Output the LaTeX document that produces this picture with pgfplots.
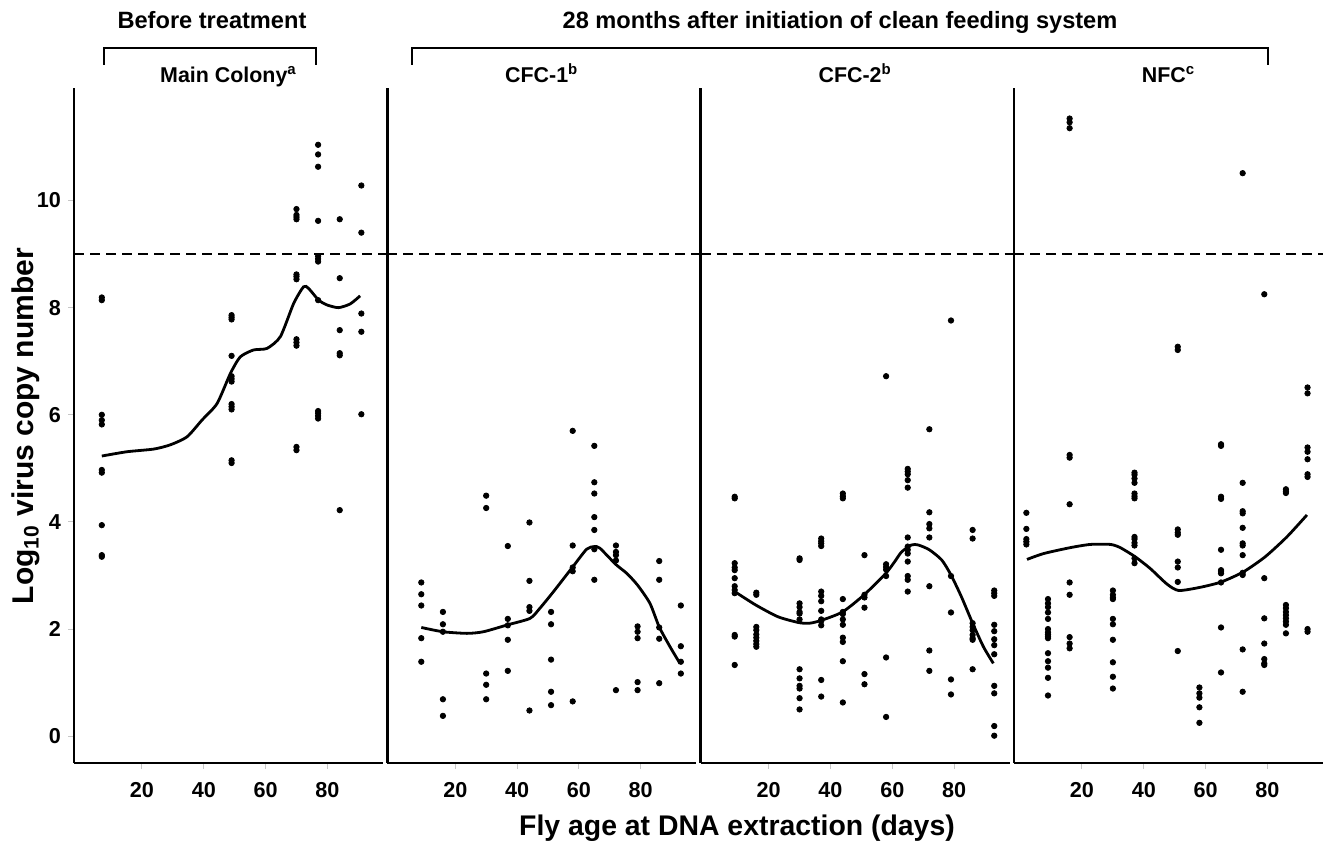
\documentclass[border=0pt]{standalone}
\usepackage{fontspec}
\setmainfont{Liberation Sans}
\usepackage{pgfplots}
\pgfplotsset{compat=1.18}
\tikzset{thr/.style={black, line width=1pt, dash pattern=on 5pt off 3pt}}
\pgfplotsset{
  panel/.style={
    scale only axis, width=154.5pt, height=337.5pt,
    xmin=-2, xmax=98, ymin=-0.5, ymax=12.1,
    axis x line*=bottom, axis y line*=left,
    axis line style={line width=1.4pt, black},
    xtick={20,40,60,80}, ytick=\empty,
    tick align=outside, major tick length=3pt,
    tick style={gray!45, line width=0.5pt},
    /pgf/number format/assume math mode=true,
    xticklabel style={font=\bfseries\fontsize{10.8}{12}\selectfont, yshift=-3pt},
    yticklabel style={font=\bfseries\fontsize{10.8}{12}\selectfont},
    title style={at={(rel axis cs:0.5,1)}, anchor=base, yshift=-3pt,
      font=\bfseries\fontsize{10.7}{12}\selectfont},
    clip=false,
    anchor=south west,
  },
  dots/.style={only marks, mark=*, mark size=1.35pt, black},
  curve/.style={smooth, tension=0.4, line width=1.4pt, black, no markers},
}
\begin{document}
\begin{tikzpicture}
\path[use as bounding box] (0,0) rectangle (661.5pt,-422.5pt);

% ---------- Main Colony ----------
\begin{axis}[panel, at={(37pt,-381.5pt)},
  ytick={0,2,4,6,8,10},
  title={Main Colony\textsuperscript{a}},
  ylabel={Log\textsubscript{10} virus copy number},
  ylabel style={at={(rel axis cs:-0.155,0.499)}, anchor=center, rotate=0,
    font=\bfseries\fontsize{15}{17}\selectfont}]
\draw[thr] (axis cs:-2,9) -- (axis cs:100,9);
\addplot[dots] coordinates {
(7,8.19) (7,8.14) (7,6.00) (7,5.90) (7,5.82) (7,4.97) (7,4.92) (7,3.94) (7,3.38) (7,3.35)
(49,7.86) (49,7.82) (49,7.78) (49,7.10) (49,6.72) (49,6.67) (49,6.62) (49,6.20) (49,6.15) (49,6.10) (49,5.15) (49,5.10)
(70,9.84) (70,9.73) (70,9.69) (70,9.65) (70,8.62) (70,8.58) (70,8.53) (70,7.41) (70,7.35) (70,7.29) (70,5.40) (70,5.34)
(77,11.04) (77,10.86) (77,10.63) (77,9.62) (77,8.96) (77,8.91) (77,8.86) (77,8.14) (77,6.07) (77,6.03) (77,5.98) (77,5.93)
(84,9.65) (84,8.55) (84,7.58) (84,7.15) (84,7.11) (84,4.22)
(91,10.28) (91,9.40) (91,7.89) (91,7.55) (91,6.01)
};
\addplot[curve] coordinates {
(7,5.23) (15.1,5.31) (23.8,5.36) (29.2,5.44) (34.6,5.59) (39.4,5.90) (44.3,6.21)
(48.6,6.77) (51.8,7.08) (56.1,7.21) (60.5,7.24) (64.8,7.46) (69.1,8.08) (72.3,8.39)
(73.9,8.36) (77.2,8.14) (79.9,8.05) (83.6,8.00) (87.4,8.07) (90.6,8.22)
};
\end{axis}

% ---------- CFC-1 ----------
\begin{axis}[panel, at={(193.65pt,-381.5pt)}, title={CFC-1\textsuperscript{b}}]
\draw[thr] (axis cs:-2,9) -- (axis cs:100,9);
\addplot[dots] coordinates {
(9,2.87) (9,2.65) (9,2.44) (9,1.83) (9,1.39)
(16,2.32) (16,2.09) (16,1.95) (16,0.69) (16,0.38)
(30,4.49) (30,4.26) (30,1.17) (30,0.96) (30,0.69)
(37,3.55) (37,2.19) (37,2.07) (37,1.80) (37,1.22)
(44,3.99) (44,2.90) (44,2.41) (44,2.34) (44,0.48)
(51,2.32) (51,2.09) (51,1.43) (51,0.83) (51,0.58)
(58,5.70) (58,3.56) (58,3.15) (58,3.08) (58,0.65)
(65,5.42) (65,4.74) (65,4.53) (65,4.09) (65,3.85) (65,3.49) (65,2.92)
(72,3.56) (72,3.44) (72,3.38) (72,3.28) (72,0.86)
(79,2.05) (79,1.95) (79,1.83) (79,1.01) (79,0.86)
(86,3.27) (86,2.92) (86,2.03) (86,1.82) (86,0.99)
(93,2.44) (93,1.68) (93,1.39) (93,1.17)
};
\addplot[curve] coordinates {
(9,2.03) (16,1.95) (23.8,1.92) (29.1,1.95) (37,2.08) (44.2,2.20) (47.4,2.39)
(51.8,2.70) (58,3.16) (62.5,3.49) (65,3.54) (66.8,3.51) (71.9,3.21) (75.5,3.04)
(79,2.82) (83,2.48) (86,2.04) (89.5,1.67) (92.7,1.36)
};
\end{axis}

% ---------- CFC-2 ----------
\begin{axis}[panel, at={(350.35pt,-381.5pt)}, title={CFC-2\textsuperscript{b}}]
\draw[thr] (axis cs:-2,9) -- (axis cs:100,9);
\addplot[dots] coordinates {
(9,4.47) (9,4.44) (9,3.23) (9,3.15) (9,3.10) (9,2.95) (9,2.80) (9,2.73) (9,2.67) (9,1.89) (9,1.86) (9,1.33)
(16,2.68) (16,2.64) (16,2.04) (16,1.98) (16,1.90) (16,1.84) (16,1.78) (16,1.72) (16,1.67)
(30,3.32) (30,3.29) (30,2.48) (30,2.41) (30,2.32) (30,2.29) (30,2.18) (30,1.25) (30,1.08) (30,0.94) (30,0.89) (30,0.71) (30,0.50)
(37,3.69) (37,3.64) (37,3.60) (37,3.55) (37,2.70) (37,2.62) (37,2.52) (37,2.34) (37,2.18) (37,2.15) (37,2.07) (37,1.05) (37,0.74)
(44,4.53) (44,4.48) (44,4.44) (44,2.56) (44,2.32) (44,2.28) (44,2.18) (44,2.08) (44,1.84) (44,1.76) (44,1.40) (44,0.63)
(51,3.38) (51,2.64) (51,2.59) (51,2.40) (51,1.16) (51,0.97)
(58,6.72) (58,3.21) (58,3.16) (58,3.11) (58,2.99) (58,1.47) (58,0.36)
(65,4.99) (65,4.94) (65,4.89) (65,4.78) (65,4.64) (65,3.71) (65,3.54) (65,3.48) (65,3.41) (65,3.26) (65,2.99) (65,2.92) (65,2.70)
(72,5.73) (72,4.18) (72,3.96) (72,3.88) (72,3.71) (72,2.80) (72,1.60) (72,1.22)
(79,7.76) (79,2.99) (79,2.31) (79,1.06) (79,0.78)
(86,3.85) (86,3.69) (86,2.11) (86,2.04) (86,1.98) (86,1.89) (86,1.83) (86,1.80) (86,1.25)
(93,2.72) (93,2.67) (93,2.62) (93,2.08) (93,1.96) (93,1.81) (93,1.70) (93,1.53) (93,0.94) (93,0.80) (93,0.19) (93,0.01)
};
\addplot[curve] coordinates {
(9,2.70) (15.8,2.45) (23,2.23) (29.8,2.12) (33.3,2.11) (36.9,2.16) (43.9,2.32)
(50.9,2.64) (57.9,3.04) (60.8,3.26) (63,3.44) (66.2,3.57) (68.4,3.57) (72,3.48)
(76,3.29) (79,3.01) (82.4,2.60) (86,2.11) (89.5,1.67) (92.7,1.36)
};
\end{axis}

% ---------- NFC ----------
\begin{axis}[panel, at={(507pt,-381.5pt)}, title={NFC\textsuperscript{c}}]
\draw[thr] (axis cs:-2,9) -- (axis cs:98,9);
\addplot[dots] coordinates {
(2,4.17) (2,3.87) (2,3.68) (2,3.63) (2,3.58)
(9,2.56) (9,2.48) (9,2.41) (9,2.31) (9,2.19) (9,2.00) (9,1.94) (9,1.90) (9,1.86) (9,1.83) (9,1.55) (9,1.40) (9,1.28) (9,1.09) (9,0.76)
(16,11.53) (16,11.46) (16,11.35) (16,5.25) (16,5.20) (16,4.33) (16,2.87) (16,2.64) (16,1.85) (16,1.73) (16,1.64)
(30,2.72) (30,2.64) (30,2.59) (30,2.56) (30,2.19) (30,2.09) (30,1.80) (30,1.38) (30,1.11) (30,0.89)
(37,4.92) (37,4.88) (37,4.81) (37,4.73) (37,4.53) (37,4.48) (37,4.44) (37,3.72) (37,3.68) (37,3.61) (37,3.56) (37,3.32) (37,3.23)
(51,7.27) (51,7.21) (51,3.86) (51,3.80) (51,3.76) (51,3.26) (51,3.15) (51,2.88) (51,1.59)
(58,0.91) (58,0.80) (58,0.72) (58,0.54) (58,0.25)
(65,5.45) (65,5.42) (65,4.47) (65,4.43) (65,3.48) (65,3.10) (65,3.07) (65,3.04) (65,2.87) (65,2.03) (65,1.19)
(72,10.51) (72,4.73) (72,4.20) (72,4.16) (72,3.89) (72,3.60) (72,3.56) (72,3.38) (72,3.05) (72,3.01) (72,1.62) (72,0.83)
(79,8.25) (79,2.95) (79,2.20) (79,1.73) (79,1.44) (79,1.36) (79,1.33)
(86,4.61) (86,4.57) (86,4.54) (86,2.45) (86,2.39) (86,2.32) (86,2.26) (86,2.20) (86,2.14) (86,2.08) (86,1.92)
(93,6.51) (93,6.40) (93,5.39) (93,5.31) (93,5.17) (93,4.89) (93,4.84) (93,2.00) (93,1.95)
};
\addplot[curve] coordinates {
(2.2,3.30) (7.6,3.41) (16.2,3.52) (22.7,3.58) (29.2,3.58) (32.4,3.52) (37.2,3.35)
(42.1,3.13) (47.5,2.84) (51.3,2.72) (58.3,2.78) (65.1,2.88) (72.3,3.07) (79.3,3.35)
(86.3,3.72) (92.8,4.13)
};
\end{axis}

% ---------- group headers and shared x label ----------
\begin{scope}[x=0.5pt,y=-0.5pt]
\draw[line width=1pt] (104,65) -- (104,48.3) -- (316,48.3) -- (316,65);
\draw[line width=1pt] (411.7,65) -- (411.7,48.3) -- (1268,48.3) -- (1268,65);
\node[anchor=base, inner sep=0pt, font=\bfseries\fontsize{11.8}{14}\selectfont] at (212,28.3) {Before treatment};
\node[anchor=base, inner sep=0pt, font=\bfseries\fontsize{11.8}{14}\selectfont] at (840,28.3) {28 months after initiation of clean feeding system};
\node[anchor=base, inner sep=0pt, font=\bfseries\fontsize{14.2}{16}\selectfont] at (737,835) {Fly age at DNA extraction (days)};
\end{scope}
\end{tikzpicture}
\end{document}
